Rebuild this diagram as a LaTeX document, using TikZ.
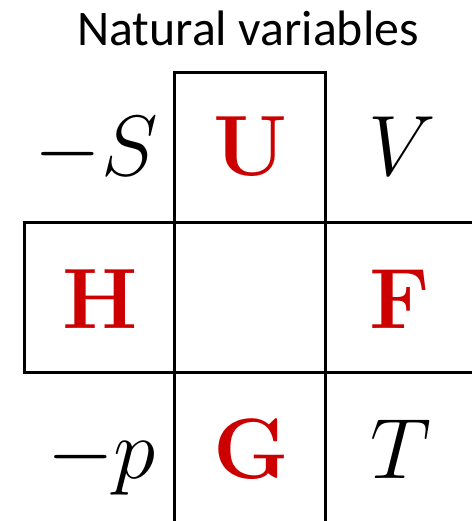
\documentclass[tikz,border=0pt]{standalone}
\usepackage{fix-cm}
\usepackage{fontspec}
\newfontfamily\titlefont{Carlito}
\definecolor{potred}{RGB}{204,0,0}
\tikzset{
  pot/.style={anchor=base, inner sep=0pt, text=potred, font=\fontsize{86}{90}\selectfont\bfseries},
  var/.style={anchor=base, inner sep=0pt, font=\fontsize{86}{90}\selectfont},
  gridline/.style={line width=3bp, line join=miter}
}

\begin{document}
\begin{tikzpicture}[x=1bp, y=-1bp]
  \useasboundingbox (0,0) rectangle (472,521);
  % Title
  \node[anchor=base, inner sep=0pt, font=\titlefont\fontsize{50}{54}\selectfont] (title) at (248,46) {Natural variables};

  % Draw the cross of the two open boxes
  \draw[gridline] (174.5,530) -- (174.5,72.5) -- (325,72.5) -- (325,530);
  \draw[gridline] (480,222.5) -- (24.5,222.5) -- (24.5,372.5) -- (480,372.5);

  % Top row
  \node[var, anchor=base east] (negS) at (158,176) {$-S$};
  \node[pot] (U) at (251,176) {U};
  \node[var] (V) at (402,176) {$V$};

  % Middle row
  \node[pot] (H) at (100,328) {H};
  \node[pot] (F) at (400,328) {F};

  % Bottom row
  \node[var, anchor=base east] (negp) at (156,478) {$-p$};
  \node[pot] (G) at (251,478) {G};
  \node[var] (T) at (401,478) {$T$};
\end{tikzpicture}
\end{document}
